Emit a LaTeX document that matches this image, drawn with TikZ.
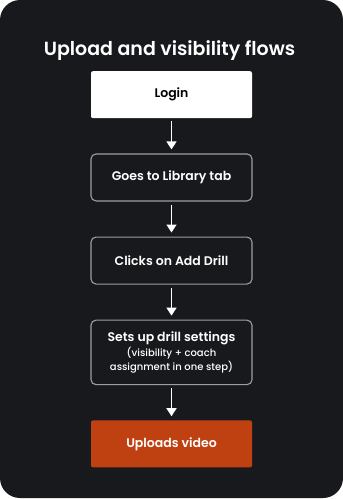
\documentclass[tikz,border=0pt]{standalone}
\usepackage{fontspec}
\setmainfont{Poppins}
\newfontfamily\boxfont{Poppins SemiBold}
\newfontfamily\notefont{Poppins Medium}
\usetikzlibrary{arrows.meta,positioning}
\definecolor{PanelClr}{RGB}{24,25,28}
\definecolor{EdgeClr}{RGB}{158,158,160}
\definecolor{UploadClr}{RGB}{191,65,18}

\tikzset{
  stepbox/.style={minimum width=161pt,minimum height=47pt,inner sep=0pt,align=center,
    font=\boxfont\fontsize{12.5}{14}\selectfont},
  darkbox/.style={stepbox,draw=EdgeClr,line width=1.1pt,fill=PanelClr,text=white,rounded corners=5pt},
  flowarrow/.style={white,line width=1.5pt,-{Triangle[width=10pt,length=8pt]},shorten <=3pt,shorten >=4pt}
}

\begin{document}
\begin{tikzpicture}[x=1pt,y=-1pt,node distance=35pt]
% panel
\fill[white] (0,0) rectangle (343,499);
\fill[PanelClr,rounded corners=20pt] (0,0) rectangle (343,498);
\useasboundingbox (0,0) rectangle (343,499);

\node[anchor=base,text=white,font=\boxfont\fontsize{19}{22}\selectfont] (title) at (169.5,55.7) {Upload and visibility flows};

\node[stepbox,fill=white,text=black,rounded corners=2pt] (login) at (171.5,94.7) {Login};
\node[darkbox,below=of login] (library) {Goes to Library tab};
\node[darkbox,below=of library] (adddrill) {Clicks on Add Drill};
\node[darkbox,below=of adddrill,minimum height=64.5pt] (settings) {Sets up drill settings\\[1pt]
  {\notefont\fontsize{10}{14}\selectfont (visibility + coach}\\{\notefont\fontsize{10}{14}\selectfont assignment in one step)}};
\node[stepbox,fill=UploadClr,text=white,rounded corners=2pt,below=of settings] (upload) {Uploads video};

\draw[flowarrow] (login) -- (library);
\draw[flowarrow] (library) -- (adddrill);
\draw[flowarrow] (adddrill) -- (settings);
\draw[flowarrow] (settings) -- (upload);

\end{tikzpicture}
\end{document}
